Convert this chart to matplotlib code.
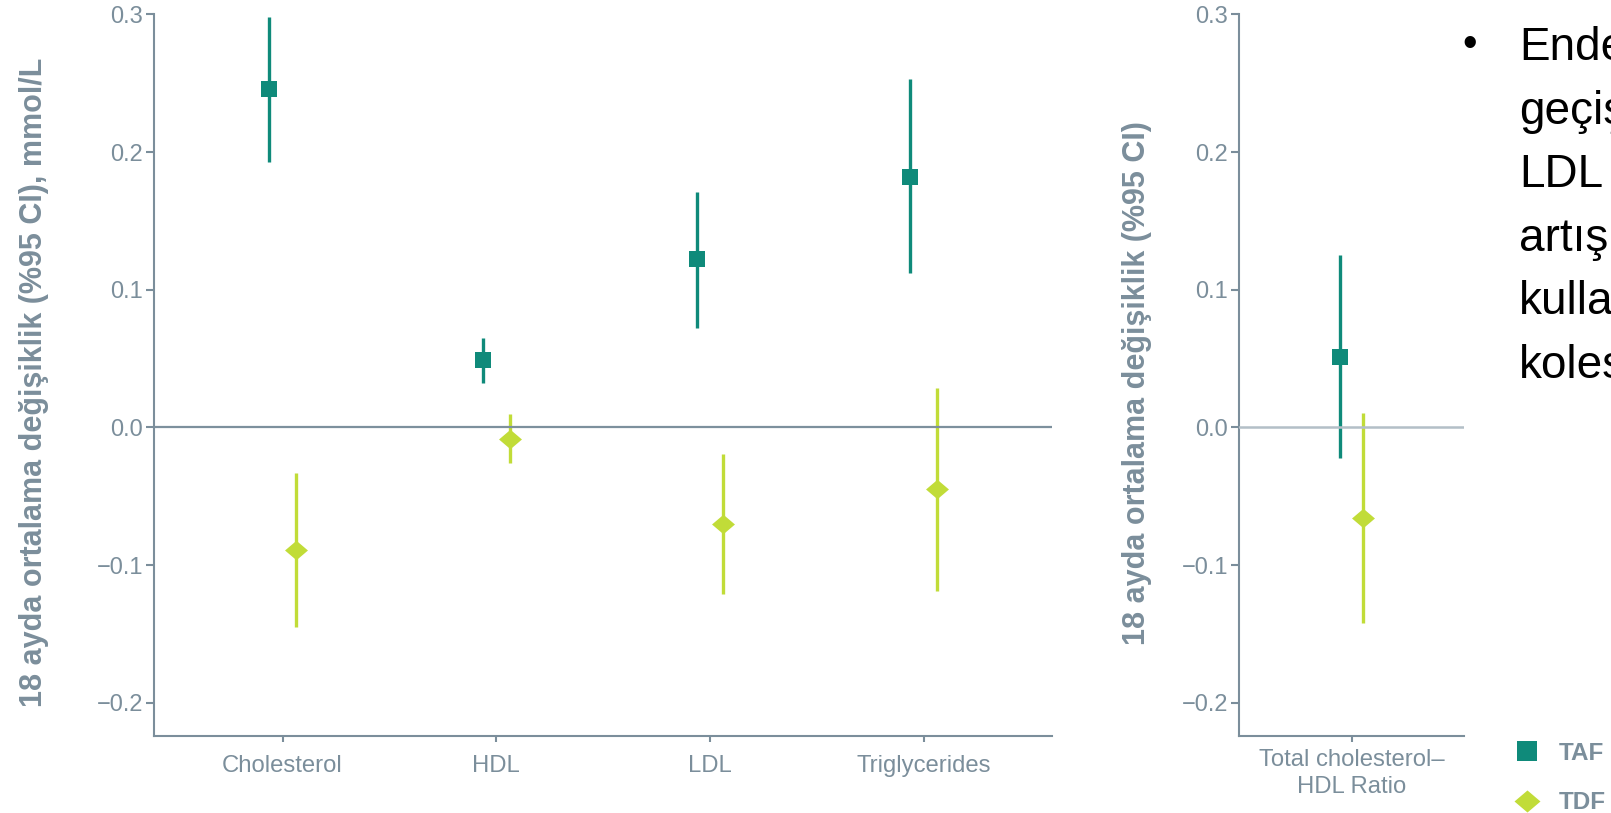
import numpy as np
import matplotlib
matplotlib.use("Agg")
import matplotlib.pyplot as plt
from matplotlib.lines import Line2D

# values (mmol/L, mean with 95% CI)
categories = ["Cholesterol", "HDL", "LDL", "Triglycerides"]
taf_mean = [0.246, 0.049, 0.122, 0.182]
taf_low = [0.193, 0.032, 0.072, 0.112]
taf_high = [0.298, 0.065, 0.171, 0.253]
tdf_mean = [-0.089, -0.008, -0.070, -0.045]
tdf_low = [-0.145, -0.026, -0.121, -0.119]
tdf_high = [-0.033, 0.010, -0.019, 0.029]

ratio_categories = ["Total cholesterol–\nHDL Ratio"]
ratio_taf_mean = [0.0515]
ratio_taf_low = [-0.022]
ratio_taf_high = [0.125]
ratio_tdf_mean = [-0.066]
ratio_tdf_low = [-0.142]
ratio_tdf_high = [0.0105]

yticks = [-0.2, -0.1, 0.0, 0.1, 0.2, 0.3]
ylabel_main = "18 ayda ortalama değişiklik (%95 CI), mmol/L"
ylabel_ratio = "18 ayda ortalama değişiklik (%95 CI)"
bullet_lines = ["Endeks", "geçişte", "LDL", "artışlar", "kullanan", "kolesterol"]

TEAL = "#0f8a7a"
LIME = "#c1dc38"
GREY = "#7b8e9b"
FONT = ["Liberation Sans", "DejaVu Sans"]
DIAMOND = [(-1, 0), (0, 0.85), (1, 0), (0, -0.85), (-1, 0)]

W, H = 1611, 813


def fx(px):
    return px / W


def fy(py):
    return 1 - py / H


def draw_pairs(ax, labels, t_m, t_lo, t_hi, d_m, d_lo, d_hi, dodge):
    x = np.arange(len(labels))
    ax.vlines(x - dodge, t_lo, t_hi, color=TEAL, lw=2.4, zorder=2)
    ax.vlines(x + dodge, d_lo, d_hi, color=LIME, lw=2.4, zorder=2)
    ax.plot(x - dodge, t_m, ls="none", marker="s", ms=11.2, mew=0, color=TEAL, zorder=4)
    ax.plot(x + dodge, d_m, ls="none", marker=DIAMOND, ms=16.5, mew=0, color=LIME, zorder=4)
    ax.set_xticks(x)
    ax.set_xticklabels(labels, family=FONT, fontsize=17.2, color=GREY, linespacing=1.35)
    ax.set_yticks(yticks)
    ax.set_yticklabels([f"{v:.1f}".replace("-", "\u2212") for v in yticks],
                       family=FONT, fontsize=17, color=GREY)
    ax.set_ylim(-0.224, 0.3)
    for side in ["top", "right"]:
        ax.spines[side].set_visible(False)
    for side in ["left", "bottom"]:
        ax.spines[side].set_color(GREY)
        ax.spines[side].set_linewidth(1.5)
    ax.tick_params(axis="y", length=6, width=1.5, pad=2, color=GREY)
    ax.tick_params(axis="x", length=4.5, width=1.5, color=GREY)


fig = plt.figure(figsize=(W / 100, H / 100), dpi=100)

ax1 = fig.add_axes([fx(154.3), fy(736), fx(1052) - fx(154.3), fy(14.3) - fy(736)])
draw_pairs(ax1, categories, taf_mean, taf_low, taf_high,
           tdf_mean, tdf_low, tdf_high, 0.063)
ax1.set_xlim(-0.6, 3.6)
ax1.axhline(0, color="#7d909d", lw=1.6, zorder=3)
ax1.tick_params(axis="x", pad=9)

ax2 = fig.add_axes([fx(1239.3), fy(736), fx(1464) - fx(1239.3), fy(14.3) - fy(736)])
draw_pairs(ax2, ratio_categories, ratio_taf_mean, ratio_taf_low, ratio_taf_high,
           ratio_tdf_mean, ratio_tdf_low, ratio_tdf_high, 0.052)
ax2.set_xlim(-0.5, 0.5)
ax2.axhline(0, color="#b3bfc7", lw=1.8, zorder=3)
ax2.tick_params(axis="x", pad=4.5)

# y labels, bold grey
fig.text(fx(19), fy(707), ylabel_main, rotation=90, ha="left", va="bottom",
         family=FONT, weight="bold", fontsize=22, color=GREY)
fig.text(fx(1122), fy(645), ylabel_ratio, rotation=90, ha="left", va="bottom",
         family=FONT, weight="bold", fontsize=22, color=GREY)

# legend
handles = [
    Line2D([], [], ls="none", marker="s", ms=13.7, mew=0, color=TEAL),
    Line2D([], [], ls="none", marker=DIAMOND, ms=18.7, mew=0, color=LIME),
]
fig.legend(handles, ["TAF", "TDF"], loc="upper left",
           bbox_to_anchor=(fx(1512.75), fy(742)), frameon=False,
           borderpad=0, borderaxespad=0, handlelength=1.2, handletextpad=0.7,
           labelspacing=1.08, labelcolor=GREY,
           prop={"family": FONT, "weight": "bold", "size": 17.5})

# bullet text on the right edge (cut by the slide)
fig.text(fx(1470), fy(56), "\u2022", ha="center", va="baseline",
         family=FONT, fontsize=30, color="black")
for i, line in enumerate(bullet_lines):
    fig.text(fx(1519), fy(60 + 63.6 * i), line, ha="left", va="baseline",
             family=FONT, fontsize=33, color="black")

fig.savefig("out.png", dpi=100)
